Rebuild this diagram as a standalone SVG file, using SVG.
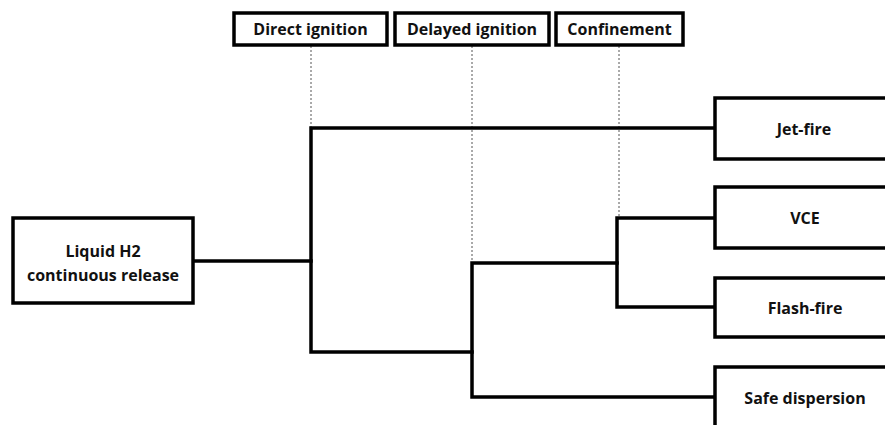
<svg xmlns="http://www.w3.org/2000/svg" width="885" height="425" viewBox="0 0 885 425">
<style>
.box{fill:#fff;stroke:#000;stroke-width:3.5}
.t{font-family:"Open Sans","Liberation Sans",sans-serif;font-weight:bold;font-size:16px;fill:#111;text-anchor:middle;dominant-baseline:central}
.ln{fill:none;stroke:#000;stroke-width:3.5;stroke-linejoin:miter;stroke-linecap:square}
.dot{fill:none;stroke:#555;stroke-width:1;stroke-dasharray:2 2}
</style>
<rect width="885" height="425" fill="#fff"/>
<g id="connectors">
<line class="dot" x1="311" y1="46" x2="311" y2="127"/>
<line class="dot" x1="472" y1="46" x2="472" y2="262"/>
<line class="dot" x1="619" y1="46" x2="619" y2="217"/>
<polyline class="ln" points="193,261 311,261"/>
<polyline class="ln" points="715,128 311,128 311,352 472,352"/>
<polyline class="ln" points="715,397 472,397 472,263 617,263"/>
<polyline class="ln" points="715,218 617,218 617,307 715,307"/>
</g>
<g id="h-direct"><rect class="box" x="234" y="13" width="153" height="32"/><text class="t" x="310.5" y="29">Direct ignition</text></g>
<g id="h-delayed"><rect class="box" x="395" y="13" width="154" height="32"/><text class="t" x="472" y="29">Delayed ignition</text></g>
<g id="h-confinement"><rect class="box" x="556" y="13" width="127" height="32"/><text class="t" x="619.5" y="29">Confinement</text></g>
<g id="n-release"><rect class="box" x="13" y="218" width="180" height="85"/><text class="t" x="103" y="251">Liquid H2</text><text class="t" x="103" y="275">continuous release</text></g>
<g id="n-jetfire"><rect class="box" x="715" y="98" width="175" height="61"/><text class="t" x="804" y="129">Jet-fire</text></g>
<g id="n-vce"><rect class="box" x="715" y="187" width="175" height="61"/><text class="t" x="805" y="218">VCE</text></g>
<g id="n-flashfire"><rect class="box" x="715" y="278" width="175" height="59"/><text class="t" x="805" y="308">Flash-fire</text></g>
<g id="n-safe"><rect class="box" x="715" y="367" width="175" height="70"/><text class="t" x="805" y="398">Safe dispersion</text></g>
</svg>
